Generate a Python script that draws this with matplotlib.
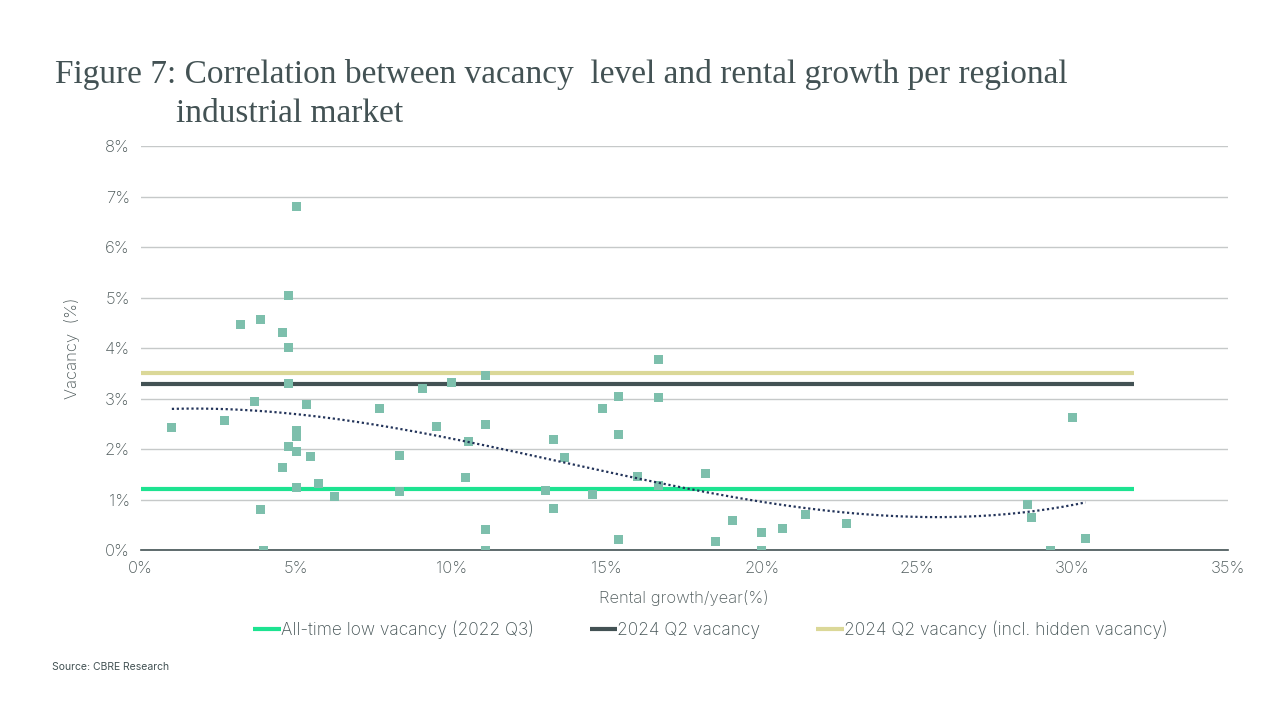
import numpy as np
import matplotlib
matplotlib.use("Agg")
import matplotlib.pyplot as plt
from matplotlib.ticker import FuncFormatter

# rental growth per year (%) and vacancy (%) per regional market
rental_growth = [1.0, 2.7, 3.2, 3.65, 3.85, 3.85, 3.95, 4.55, 4.55, 4.76,
                 4.76, 4.76, 4.76, 5.0, 5.0, 5.0, 5.0, 5.0, 5.35, 5.47,
                 5.73, 6.25, 7.7, 8.34, 8.34, 9.08, 9.53, 10.0, 10.46, 10.56,
                 11.1, 11.1, 11.1, 11.1, 13.04, 13.3, 13.3, 13.65, 14.55, 14.87,
                 15.4, 15.4, 15.4, 16.0, 16.68, 16.68, 16.68, 18.19, 18.5, 19.06,
                 20.0, 20.0, 20.67, 21.4, 22.73, 28.57, 28.7, 29.3, 30.0, 30.43]
vacancy = [2.42, 2.57, 4.46, 2.95, 4.57, 0.81, 0.0, 1.64, 4.30, 5.05,
           4.02, 3.29, 2.06, 6.81, 2.36, 2.24, 1.96, 1.23, 2.89, 1.86,
           1.31, 1.07, 2.81, 1.88, 1.17, 3.21, 2.45, 3.32, 1.44, 2.16,
           3.46, 2.49, 0.41, 0.0, 1.18, 2.19, 0.83, 1.84, 1.11, 2.81,
           3.04, 2.29, 0.21, 1.46, 3.78, 3.02, 1.27, 1.52, 0.17, 0.59,
           0.35, 0.0, 0.43, 0.71, 0.53, 0.90, 0.65, 0.0, 2.63, 0.23]

ref_labels = ["All-time low vacancy (2022 Q3)", "2024 Q2 vacancy",
              "2024 Q2 vacancy (incl. hidden vacancy)"]
ref_values = [1.2, 3.29, 3.5]
ref_colors = ["#1de391", "#435254", "#dbd898"]
ref_x = [0, 32]

text_col = "#435254"
tick_col = "#4f5b5c"
sans = ["Inter", "DejaVu Sans"]

fig = plt.figure(figsize=(12.8, 7.2), dpi=100)
ax = fig.add_axes([0.110, 0.236, 0.849, 0.561])

ax.set_xlim(0, 35)
ax.set_ylim(0, 8)
ax.set_yticks(range(0, 9))
ax.set_xticks(range(0, 36, 5))
ax.grid(axis="y", color="#c6c9c9", lw=1)
ax.set_axisbelow(True)
for s in ["top", "right", "left"]:
    ax.spines[s].set_visible(False)
ax.spines["bottom"].set_color(text_col)
ax.spines["bottom"].set_linewidth(1.2)
ax.tick_params(length=0, labelsize=12, colors=tick_col, pad=8)
ax.xaxis.set_major_formatter(FuncFormatter(lambda v, p: f"{v:.0f}%"))
ax.yaxis.set_major_formatter(FuncFormatter(lambda v, p: f"{v:.0f}%"))
for lab in ax.get_xticklabels() + ax.get_yticklabels():
    lab.set_family(sans)
    lab.set_fontweight("light")

handles = []
for lab, val, col in zip(ref_labels, ref_values, ref_colors):
    h, = ax.plot(ref_x, [val, val], color=col, lw=3, label=lab,
                 solid_capstyle="butt", zorder=2)
    handles.append(h)

ax.scatter(rental_growth, vacancy, marker="s", s=42, color="#7dbfac",
           edgecolors="none", zorder=3)

# polynomial trend line (3rd order)
coef = np.polyfit(rental_growth, vacancy, 3)
xs = np.linspace(min(rental_growth), max(rental_growth), 200)
ax.plot(xs, np.polyval(coef, xs), color="#23345a", lw=1.6,
        linestyle=(0, (1, 1.2)), zorder=4)

ax.set_xlabel("Rental growth/year(%)", fontsize=12, color=tick_col,
              family=sans, fontweight="light", labelpad=10)
ax.set_ylabel("Vacancy  (%)", fontsize=12, color=tick_col,
              family=sans, fontweight="light", labelpad=18)

leg = fig.legend(handles=handles, loc="center", bbox_to_anchor=(0.555, 0.125),
                 ncol=3, frameon=False, handlelength=1.6,
                 handletextpad=0.0, columnspacing=3.2,
                 prop={"family": sans, "size": 12.5, "weight": "light"})
for t in leg.get_texts():
    t.set_color(text_col)

fig.text(0.043, 0.885, "Figure 7: Correlation between vacancy  level and rental growth per regional",
         fontsize=24, family=["Liberation Serif", "DejaVu Serif"], color=text_col)
fig.text(0.1375, 0.83, "industrial market",
         fontsize=24, family=["Liberation Serif", "DejaVu Serif"], color=text_col)
fig.text(0.041, 0.069, "Source: CBRE Research", fontsize=7.5, family=sans,
         color=text_col)

fig.savefig("out.png", dpi=100)
